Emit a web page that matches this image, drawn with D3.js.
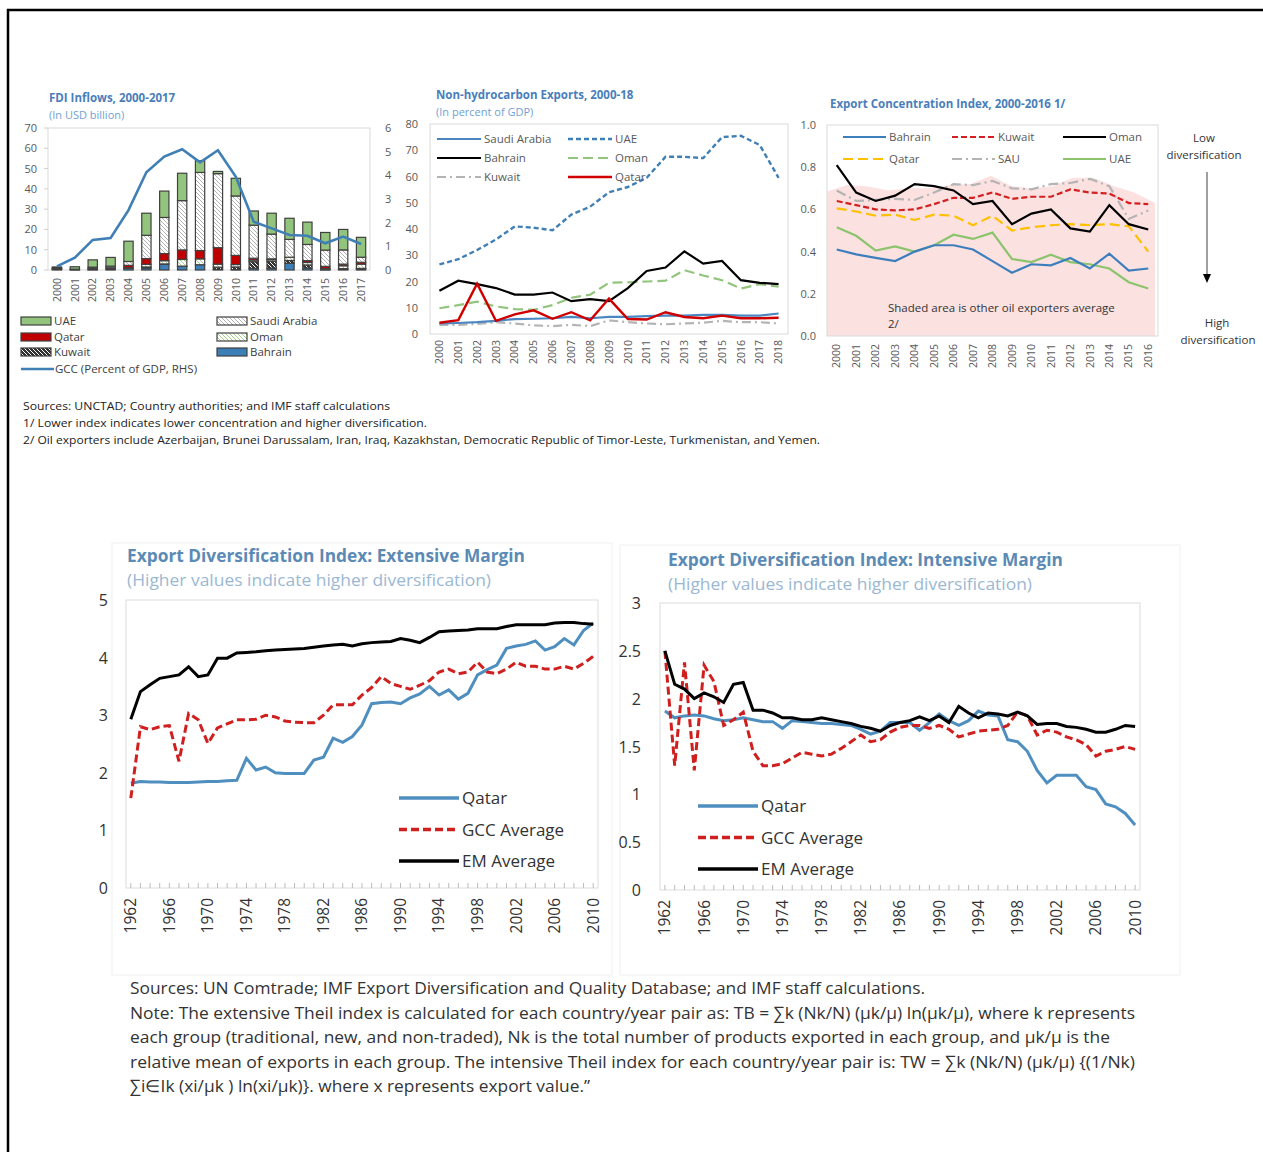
<!DOCTYPE html>
<html><head><meta charset="utf-8">
<script src="https://cdn.jsdelivr.net/npm/d3@7"></script>
<style>
body{margin:0;background:#fff}
svg{display:block}
text{font-family:"Open Sans","Noto Sans",sans-serif}
</style>
</head><body>
<svg id="c" width="1263" height="1152"></svg>
<script>
// ---------------- DATA ----------------
// FDI inflows (USD bn), 2000-2017
const fdiYears = ["2000","2001","2002","2003","2004","2005","2006","2007","2008","2009","2010","2011","2012","2013","2014","2015","2016","2017"];
const fdiBahrain = [0.4,0.1,0.2,0.5,0.9,1.0,2.9,1.8,2.6,0.3,0.2,0.8,0.9,3.3,1.0,0.1,0.3,0.5];
const fdiKuwait  = [0.0,0.0,0.0,0.0,0.0,0.5,0.1,0.1,0.0,1.1,1.3,3.3,3.4,1.4,1.5,0.3,0.4,0.3];
const fdiOman    = [0.1,0.0,0.1,0.0,0.2,1.3,1.6,3.3,2.9,1.5,1.2,0.8,0.8,1.6,1.2,0.4,1.4,2.1];
const fdiQatar   = [0.3,0.3,0.6,0.6,1.2,2.8,3.5,4.7,4.1,8.1,4.5,0.9,0.4,0.0,0.9,1.0,0.8,0.9];
const fdiSaudi   = [0.2,0.0,0.5,0.8,1.9,11.5,17.8,24.3,38.5,36.5,29.3,16.3,12.2,8.8,8.0,8.0,7.0,2.5];
const fdiUAE     = [0.5,1.2,3.6,4.3,10.0,10.9,13.0,13.5,5.8,1.1,8.7,7.0,10.3,10.4,11.0,8.7,10.1,9.8];
const fdiGCCpct  = [0.15,0.52,1.27,1.35,2.53,4.13,4.79,5.1,4.55,5.06,3.94,2.04,1.76,1.48,1.45,1.13,1.41,1.1];
const fdiLeftTicks = [0,10,20,30,40,50,60,70];
const fdiRightTicks = [0,1,2,3,4,5,6];

// Non-hydrocarbon exports (% of GDP), 2000-2018
const nhYears = ["2000","2001","2002","2003","2004","2005","2006","2007","2008","2009","2010","2011","2012","2013","2014","2015","2016","2017","2018"];
const nhSaudi   = [4.0,4.2,4.5,5.0,5.7,5.8,6.0,6.5,6.0,6.5,6.5,6.8,7.0,7.0,7.3,7.3,7.0,7.0,7.8];
const nhUAE     = [26.5,28.5,32.0,36.0,41.0,40.5,39.5,45.5,48.5,54.0,56.0,59.5,67.5,67.5,67.0,75.0,75.5,72.0,59.5];
const nhBahrain = [16.5,20.3,19.0,17.5,15.0,15.0,15.8,12.5,13.3,12.5,17.5,24.0,25.3,31.5,26.8,27.8,20.5,19.5,19.0];
const nhOman    = [9.8,11.0,12.3,10.5,9.5,9.2,11.0,13.8,15.0,19.5,19.7,20.0,20.3,24.3,22.3,20.5,17.3,19.0,18.0];
const nhKuwait  = [3.5,3.5,3.8,4.5,4.0,3.3,3.0,3.5,3.0,5.2,4.5,4.0,3.7,4.0,4.3,5.0,4.5,4.5,4.0];
const nhQatar   = [4.3,5.3,19.2,5.0,7.5,9.0,5.8,8.3,5.2,13.5,5.7,5.5,8.3,6.5,6.0,7.0,6.0,6.0,6.2];
const nhTicks = [0,10,20,30,40,50,60,70,80];

// Export concentration index, 2000-2016
const ecYears = ["2000","2001","2002","2003","2004","2005","2006","2007","2008","2009","2010","2011","2012","2013","2014","2015","2016"];
const ecBahrain = [0.41,0.387,0.37,0.355,0.40,0.43,0.43,0.41,0.355,0.30,0.34,0.335,0.37,0.32,0.39,0.31,0.32];
const ecKuwait  = [0.64,0.62,0.60,0.595,0.60,0.625,0.655,0.655,0.68,0.65,0.66,0.66,0.695,0.68,0.675,0.63,0.625];
const ecOman    = [0.81,0.68,0.64,0.665,0.72,0.71,0.69,0.625,0.64,0.53,0.58,0.60,0.51,0.495,0.62,0.53,0.505];
const ecQatar   = [0.605,0.59,0.57,0.575,0.55,0.575,0.57,0.525,0.57,0.50,0.515,0.525,0.53,0.525,0.53,0.52,0.40];
const ecSAU     = [0.69,0.64,0.645,0.65,0.645,0.68,0.72,0.715,0.735,0.70,0.695,0.72,0.725,0.745,0.71,0.555,0.595];
const ecUAE     = [0.515,0.475,0.405,0.425,0.40,0.43,0.48,0.46,0.49,0.365,0.35,0.385,0.35,0.34,0.32,0.255,0.225];
const ecOtherOil = [0.685,0.716,0.708,0.69,0.70,0.70,0.716,0.72,0.76,0.71,0.70,0.71,0.75,0.75,0.71,0.68,0.63];
const ecTicks = [0,0.2,0.4,0.6,0.8,1.0];

// Export diversification index, 1962-2010
const edYears = d3.range(1962, 2011).map(String);
const edLabelYears = ["1962","1966","1970","1974","1978","1982","1986","1990","1994","1998","2002","2006","2010"];
const extQatar = [1.82,1.85,1.84,1.84,1.83,1.83,1.83,1.84,1.85,1.85,1.86,1.87,2.25,2.05,2.1,2.0,1.99,1.99,1.99,2.22,2.27,2.6,2.53,2.63,2.83,3.2,3.22,3.23,3.2,3.3,3.37,3.5,3.35,3.44,3.28,3.38,3.7,3.79,3.87,4.16,4.2,4.23,4.29,4.13,4.19,4.33,4.22,4.47,4.6];
const extGCC   = [1.56,2.8,2.75,2.8,2.82,2.2,3.03,2.92,2.51,2.78,2.85,2.92,2.92,2.93,3.0,2.97,2.9,2.88,2.87,2.87,3.0,3.18,3.18,3.18,3.35,3.48,3.67,3.55,3.5,3.45,3.52,3.6,3.75,3.8,3.72,3.75,3.92,3.75,3.72,3.8,3.92,3.85,3.85,3.8,3.8,3.85,3.8,3.9,4.02];
const extEM    = [2.93,3.41,3.53,3.64,3.67,3.7,3.84,3.67,3.7,3.99,3.99,4.08,4.09,4.1,4.12,4.13,4.14,4.15,4.16,4.18,4.2,4.22,4.23,4.2,4.24,4.26,4.27,4.28,4.33,4.3,4.26,4.35,4.45,4.46,4.47,4.48,4.5,4.5,4.5,4.54,4.57,4.57,4.57,4.57,4.6,4.61,4.61,4.59,4.58];
const extTicks = [0,1,2,3,4,5];
const intQatar = [1.87,1.8,1.82,1.83,1.82,1.79,1.77,1.78,1.8,1.78,1.76,1.76,1.69,1.77,1.76,1.75,1.74,1.74,1.73,1.72,1.68,1.63,1.66,1.75,1.75,1.75,1.67,1.75,1.84,1.77,1.72,1.77,1.87,1.83,1.82,1.57,1.55,1.45,1.25,1.12,1.2,1.2,1.2,1.08,1.05,0.9,0.87,0.8,0.68];
const intGCC   = [2.5,1.3,2.38,1.25,2.35,2.18,1.72,1.78,1.86,1.45,1.3,1.3,1.32,1.38,1.44,1.42,1.4,1.42,1.48,1.55,1.62,1.55,1.57,1.65,1.7,1.72,1.72,1.69,1.72,1.68,1.6,1.63,1.66,1.67,1.68,1.72,1.86,1.82,1.62,1.67,1.65,1.6,1.57,1.52,1.4,1.45,1.47,1.5,1.47];
const intEM    = [2.5,2.15,2.1,2.0,2.06,2.02,1.96,2.15,2.17,1.88,1.88,1.85,1.8,1.8,1.78,1.78,1.8,1.78,1.76,1.74,1.71,1.69,1.66,1.72,1.75,1.77,1.81,1.77,1.82,1.75,1.92,1.85,1.8,1.85,1.84,1.82,1.86,1.82,1.73,1.74,1.74,1.71,1.7,1.68,1.65,1.65,1.68,1.72,1.71];
const intTicks = [0,0.5,1,1.5,2,2.5,3];

// ---------------- DRAWING ----------------
const svg = d3.select("#c");
const AX = "#595959";

function txt(x, y, s, o = {}) {
  const t = svg.append("text").attr("x", x).attr("y", y).text(s)
    .attr("font-size", o.size || 11).attr("fill", o.color || "#404040")
    .attr("font-weight", o.weight || "normal")
    .attr("text-anchor", o.anchor || "start");
  if (o.width) t.attr("textLength", o.width).attr("lengthAdjust", "spacingAndGlyphs");
  return t;
}

// outer frame
svg.append("path").attr("d", "M8,1152 L8,10 L1263,10").attr("fill", "none").attr("stroke", "#000").attr("stroke-width", 2.5);

// patterns
const defs = svg.append("defs");
function hatch(id, bg, fg, w) {
  const p = defs.append("pattern").attr("id", id).attr("patternUnits", "userSpaceOnUse").attr("width", 4).attr("height", 4);
  p.append("rect").attr("width", 4).attr("height", 4).attr("fill", bg);
  p.append("path").attr("d", "M-1,-1 L5,5 M-1,3 L1,5 M3,-1 L5,1").attr("stroke", fg).attr("stroke-width", w);
}
hatch("pSaudi", "#fff", "#a0a0a0", 0.8);
hatch("pOman", "#fff", "#9ccc7c", 0.9);
hatch("pKuwait", "#333", "#fff", 1.0);

// ===== Panel 1: FDI =====
{
  const L = 48, R = 370, T = 128, B = 270;
  txt(49, 102, "FDI Inflows, 2000-2017", {size: 11.5, weight: "bold", color: "#4A7EBB"});
  txt(49, 119, "(In USD billion)", {size: 11, color: "#6FA1D4"});
  svg.append("rect").attr("x", L).attr("y", T).attr("width", R - L).attr("height", B - T).attr("fill", "none").attr("stroke", "#d9d9d9");
  const x = d3.scaleBand().domain(fdiYears).range([L, R]).paddingInner(0.48).paddingOuter(0.24);
  const yL = d3.scaleLinear().domain([0, 70]).range([B, T]);
  const yR = d3.scaleLinear().domain([0, 6]).range([B, T]);
  fdiLeftTicks.forEach(v => {
    txt(37, yL(v) + 4, v, {size: 11, color: AX, anchor: "end"});
    svg.append("line").attr("x1", L - 4).attr("x2", L).attr("y1", yL(v)).attr("y2", yL(v)).attr("stroke", "#d0d0d0");
  });
  fdiRightTicks.forEach(v => txt(385, yR(v) + 4, v, {size: 11, color: AX}));
  const series = [
    {k: "Bahrain", v: fdiBahrain, f: "#3B7FB6"},
    {k: "Kuwait", v: fdiKuwait, f: "url(#pKuwait)"},
    {k: "Oman", v: fdiOman, f: "url(#pOman)"},
    {k: "Qatar", v: fdiQatar, f: "#C00000"},
    {k: "Saudi", v: fdiSaudi, f: "url(#pSaudi)"},
    {k: "UAE", v: fdiUAE, f: "#93C47D"}
  ];
  const rows = fdiYears.map((yr, i) => { const o = {year: yr}; series.forEach(s => o[s.k] = s.v[i]); return o; });
  const stack = d3.stack().keys(series.map(s => s.k))(rows);
  stack.forEach((layer, li) => {
    svg.append("g").selectAll("rect").data(layer).join("rect")
      .attr("x", d => x(d.data.year)).attr("width", x.bandwidth())
      .attr("y", d => yL(d[1])).attr("height", d => Math.max(0, yL(d[0]) - yL(d[1])))
      .attr("fill", series[li].f).attr("stroke", "#404040").attr("stroke-width", 1.2);
  });
  const line = d3.line().x((d, i) => x(fdiYears[i]) + x.bandwidth() / 2).y(d => yR(d));
  svg.append("path").attr("d", line(fdiGCCpct)).attr("fill", "none").attr("stroke", "#3F7FB5").attr("stroke-width", 2.6);
  fdiYears.forEach(yr => {
    svg.append("text").attr("transform", `translate(${x(yr) + x.bandwidth() / 2},278) rotate(-90)`)
      .attr("text-anchor", "end").attr("dy", "0.35em").attr("font-size", 10.5).attr("fill", AX).text(yr);
  });
  // legend
  const leg = [
    {t: "UAE", f: "#93C47D", x: 21, y: 321}, {t: "Saudi Arabia", f: "url(#pSaudi)", x: 217, y: 321},
    {t: "Qatar", f: "#C00000", x: 21, y: 337}, {t: "Oman", f: "url(#pOman)", x: 217, y: 337},
    {t: "Kuwait", f: "url(#pKuwait)", x: 21, y: 352}, {t: "Bahrain", f: "#3B7FB6", x: 217, y: 352}
  ];
  leg.forEach(l => {
    svg.append("rect").attr("x", l.x).attr("y", l.y - 4).attr("width", 30).attr("height", 8).attr("fill", l.f).attr("stroke", "#404040").attr("stroke-width", 1.2);
    txt(l.x + 33, l.y + 4, l.t, {size: 11.5, color: "#404040"});
  });
  svg.append("line").attr("x1", 21).attr("x2", 54).attr("y1", 369).attr("y2", 369).attr("stroke", "#3F7FB5").attr("stroke-width", 2.6);
  txt(55, 373, "GCC (Percent of GDP, RHS)", {size: 11.5, color: "#404040"});
}

// ===== Panel 2: Non-hydrocarbon exports =====
{
  const L = 430, R = 788, T = 124, B = 334;
  txt(436, 99, "Non-hydrocarbon Exports, 2000-18", {size: 11.5, weight: "bold", color: "#4A7EBB"});
  txt(436, 116, "(In percent of GDP)", {size: 11, color: "#6FA1D4"});
  svg.append("rect").attr("x", L).attr("y", T).attr("width", R - L).attr("height", B - T).attr("fill", "none").attr("stroke", "#d9d9d9");
  const x = d3.scaleBand().domain(nhYears).range([L, R]);
  const y = d3.scaleLinear().domain([0, 80]).range([B, T]);
  nhTicks.forEach(v => txt(418, y(v) + 4, v, {size: 11, color: AX, anchor: "end"}));
  nhYears.forEach(yr => {
    svg.append("text").attr("transform", `translate(${x(yr) + x.bandwidth() / 2},340) rotate(-90)`)
      .attr("text-anchor", "end").attr("dy", "0.35em").attr("font-size", 10.5).attr("fill", AX).text(yr);
  });
  const line = d3.line().x((d, i) => x(nhYears[i]) + x.bandwidth() / 2).y(d => y(d));
  const S = [
    {t: "Kuwait", v: nhKuwait, c: "#B4B4B4", d: "9,4,2,4", w: 2.2},
    {t: "Saudi Arabia", v: nhSaudi, c: "#4A86C0", d: null, w: 2.2},
    {t: "Oman", v: nhOman, c: "#93C47D", d: "10,5", w: 2.2},
    {t: "Bahrain", v: nhBahrain, c: "#000", d: null, w: 2.2},
    {t: "UAE", v: nhUAE, c: "#3F7FB5", d: "5,3", w: 2.4},
    {t: "Qatar", v: nhQatar, c: "#D00000", d: null, w: 2.4}
  ];
  S.forEach(s => svg.append("path").attr("d", line(s.v)).attr("fill", "none").attr("stroke", s.c).attr("stroke-width", s.w).attr("stroke-dasharray", s.d));
  const legPos = {"Saudi Arabia": [437, 139], "UAE": [568, 139], "Bahrain": [437, 158], "Oman": [568, 158], "Kuwait": [437, 177], "Qatar": [568, 177]};
  S.forEach(s => {
    const [lx, ly] = legPos[s.t];
    svg.append("line").attr("x1", lx).attr("x2", lx + 44).attr("y1", ly).attr("y2", ly).attr("stroke", s.c).attr("stroke-width", s.w).attr("stroke-dasharray", s.d);
    txt(lx + 47, ly + 4, s.t, {size: 11.5, color: "#595959"});
  });
}

// ===== Panel 3: Export concentration =====
{
  const L = 827, R = 1158, T = 125, B = 336;
  txt(830, 108, "Export Concentration Index, 2000-2016 1/", {size: 11.5, weight: "bold", color: "#4A7EBB"});
  const x = d3.scaleBand().domain(ecYears).range([L, R]);
  const y = d3.scaleLinear().domain([0, 1]).range([B, T]);
  const xa = d3.scaleLinear().domain([0, ecYears.length - 1]).range([L, R - 3]);
  svg.append("path").datum(ecOtherOil)
    .attr("d", d3.area().x((d, i) => xa(i)).y0(B).y1(d => y(d)))
    .attr("fill", "#FCE1E1");
  svg.append("rect").attr("x", L).attr("y", T).attr("width", R - L).attr("height", B - T).attr("fill", "none").attr("stroke", "#d9d9d9");
  ecTicks.forEach(v => txt(816, y(v) + 4, d3.format(".1f")(v), {size: 11, color: AX, anchor: "end"}));
  ecYears.forEach(yr => {
    svg.append("text").attr("transform", `translate(${x(yr) + x.bandwidth() / 2},344) rotate(-90)`)
      .attr("text-anchor", "end").attr("dy", "0.35em").attr("font-size", 10.5).attr("fill", AX).text(yr);
  });
  txt(888, 312, "Shaded  area is other oil exporters average", {size: 11.5, color: "#333"});
  txt(888, 328, "2/", {size: 11.5, color: "#333"});
  const line = d3.line().x((d, i) => x(ecYears[i]) + x.bandwidth() / 2).y(d => y(d));
  const S = [
    {t: "SAU", v: ecSAU, c: "#B4B4B4", d: "10,4,2,4", p: [952, 159]},
    {t: "Kuwait", v: ecKuwait, c: "#D42020", d: "6,3", p: [952, 137]},
    {t: "Qatar", v: ecQatar, c: "#FFC000", d: "10,5", p: [843, 159]},
    {t: "UAE", v: ecUAE, c: "#8CC36D", d: null, p: [1063, 159]},
    {t: "Bahrain", v: ecBahrain, c: "#3D7FBD", d: null, p: [843, 137]},
    {t: "Oman", v: ecOman, c: "#000", d: null, p: [1063, 137]}
  ];
  S.forEach(s => svg.append("path").attr("d", line(s.v)).attr("fill", "none").attr("stroke", s.c).attr("stroke-width", 2.2).attr("stroke-dasharray", s.d));
  S.forEach(s => {
    const [lx, ly] = s.p;
    svg.append("line").attr("x1", lx).attr("x2", lx + 43).attr("y1", ly).attr("y2", ly).attr("stroke", s.c).attr("stroke-width", 2.2).attr("stroke-dasharray", s.d);
    txt(lx + 46, ly + 4, s.t, {size: 11.5, color: "#595959"});
  });
  // right annotation
  txt(1204, 142, "Low", {size: 11.5, color: "#333", anchor: "middle"});
  txt(1204, 159, "diversification", {size: 11.5, color: "#333", anchor: "middle"});
  svg.append("line").attr("x1", 1207).attr("x2", 1207).attr("y1", 172).attr("y2", 276).attr("stroke", "#404040").attr("stroke-width", 1);
  svg.append("path").attr("d", "M1203,274 L1211,274 L1207,283 Z").attr("fill", "#000");
  txt(1217, 327, "High", {size: 11.5, color: "#333", anchor: "middle"});
  txt(1218, 344, "diversification", {size: 11.5, color: "#333", anchor: "middle"});
}

// top sources
txt(23, 410, "Sources: UNCTAD; Country authorities; and IMF staff calculations", {size: 11.5, color: "#222", width: 367});
txt(23, 427, "1/ Lower index indicates lower concentration and higher diversification.", {size: 11.5, color: "#222", width: 404});
txt(23, 444, "2/ Oil exporters include Azerbaijan, Brunei Darussalam, Iran, Iraq, Kazakhstan, Democratic Republic of Timor-Leste, Turkmenistan, and Yemen.", {size: 11.5, color: "#222", width: 797});

// ===== Bottom panels =====
function bottomPanel(cfg) {
  const {L, R, T, B, dom, ticks, fmt, title, tx, ty, ylabX, legX, legY, qatar, gcc, em, frame} = cfg;
  svg.append("rect").attr("x", frame[0]).attr("y", frame[1]).attr("width", frame[2]).attr("height", frame[3]).attr("fill", "none").attr("stroke", "#f0f0f0");
  txt(tx, ty, title, {size: 17, weight: "bold", color: "#5B8AB5", width: cfg.titleW});
  txt(tx, ty + 24, "(Higher values indicate higher diversification)", {size: 17, color: "#9BB8D3", width: cfg.subW});
  svg.append("rect").attr("x", L).attr("y", T).attr("width", R - L).attr("height", B - T).attr("fill", "none").attr("stroke", "#dcdcdc");
  const x = d3.scaleBand().domain(edYears).range([L, R]);
  const y = d3.scaleLinear().domain(dom).range([B, T]);
  ticks.forEach(v => txt(ylabX, y(v) + 6, fmt(v), {size: 16, color: "#333", anchor: "end"}));
  edYears.forEach(yr => {
    const cx = x(yr) + x.bandwidth() / 2;
    svg.append("line").attr("x1", cx).attr("x2", cx).attr("y1", B).attr("y2", B - 5).attr("stroke", "#bbb");
  });
  edLabelYears.forEach(yr => {
    svg.append("text").attr("transform", `translate(${x(yr) + x.bandwidth() / 2},${B + 10}) rotate(-90)`)
      .attr("text-anchor", "end").attr("dy", "0.35em").attr("font-size", 15.5).attr("fill", "#333").text(yr);
  });
  const line = d3.line().x((d, i) => x(edYears[i]) + x.bandwidth() / 2).y(d => y(d));
  const S = [
    {t: "Qatar", v: qatar, c: "#4F8FC0", d: null},
    {t: "GCC Average", v: gcc, c: "#D01F1F", d: "8,4"},
    {t: "EM Average", v: em, c: "#000", d: null}
  ];
  S.forEach(s => svg.append("path").attr("d", line(s.v)).attr("fill", "none").attr("stroke", s.c).attr("stroke-width", 3).attr("stroke-dasharray", s.d));
  S.forEach((s, i) => {
    const ly = legY + i * 31.5;
    svg.append("line").attr("x1", legX).attr("x2", legX + 60).attr("y1", ly).attr("y2", ly).attr("stroke", s.c).attr("stroke-width", 3.5).attr("stroke-dasharray", s.d);
    txt(legX + 63, ly + 6, s.t, {size: 17, color: "#333"});
  });
}
bottomPanel({L: 126, R: 598, T: 600, B: 888, dom: [0, 5], ticks: extTicks, fmt: d => d,
  title: "Export Diversification Index: Extensive Margin", tx: 127, ty: 562, titleW: 398, subW: 364,
  ylabX: 108, legX: 399, legY: 798, qatar: extQatar, gcc: extGCC, em: extEM, frame: [112, 543, 500, 432]});
bottomPanel({L: 660, R: 1140, T: 603, B: 890, dom: [0, 3], ticks: intTicks, fmt: d => d,
  title: "Export Diversification Index: Intensive Margin", tx: 668, ty: 566, titleW: 395, subW: 364,
  ylabX: 641, legX: 698, legY: 806, qatar: intQatar, gcc: intGCC, em: intEM, frame: [620, 545, 560, 430]});

// bottom notes
const notes = [
  ["Sources: UN Comtrade; IMF Export Diversification and Quality Database; and IMF staff calculations.", 795],
  ["Note: The extensive Theil index is calculated for each country/year pair as: TB = \u2211k (Nk/N) (\u03bck/\u03bc) ln(\u03bck/\u03bc), where k represents", 1005],
  ["each group (traditional, new, and non-traded), Nk is the total number of products exported in each group, and \u03bck/\u03bc is the", 980],
  ["relative mean of exports in each group. The intensive Theil index for each country/year pair is: TW = \u2211k (Nk/N) (\u03bck/\u03bc) {(1/Nk)", 1005],
  ["\u2211i\u2208Ik (xi/\u03bck ) ln(xi/\u03bck)}. where x represents export value.\u201d", 460]
];
notes.forEach((n, i) => txt(130, 994 + i * 24.5, n[0], {size: 17, color: "#333", width: n[1]}));
</script>
</body></html>
